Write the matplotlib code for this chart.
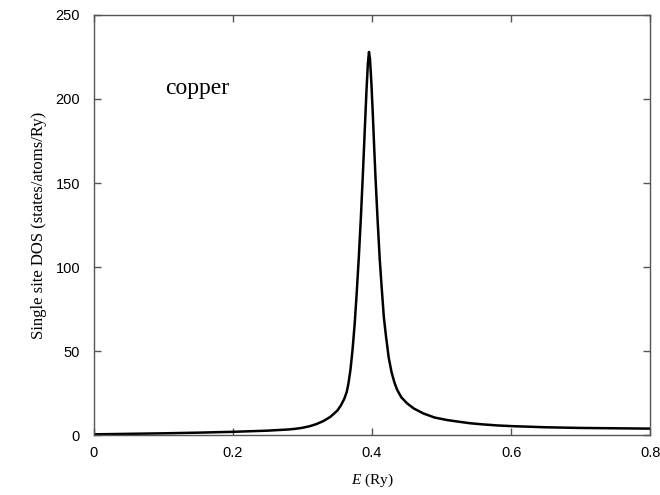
import numpy as np
import matplotlib
matplotlib.use('Agg')
import matplotlib.pyplot as plt

plt.rcParams['mathtext.fontset'] = 'custom'
plt.rcParams['mathtext.it'] = 'Liberation Serif:italic'
plt.rcParams['mathtext.rm'] = 'Liberation Serif'

# single site DOS for copper
energy = [0.0, 0.05, 0.1, 0.15, 0.2, 0.25, 0.28, 0.29, 0.30, 0.31, 0.32,
          0.33, 0.34, 0.35, 0.355, 0.36, 0.3635, 0.366, 0.369, 0.372,
          0.375, 0.378, 0.381, 0.384, 0.387, 0.390, 0.392, 0.394, 0.3956,
          0.397, 0.399, 0.401, 0.403, 0.405, 0.408, 0.411, 0.414, 0.417,
          0.420, 0.424, 0.428, 0.432, 0.436, 0.442, 0.45, 0.46, 0.474,
          0.49, 0.508, 0.525, 0.541, 0.56, 0.58, 0.6, 0.65, 0.7, 0.75, 0.8]
dos = [0.4, 0.7, 1.0, 1.4, 1.9, 2.6, 3.3, 3.7, 4.3, 5.2, 6.5,
       8.3, 10.8, 14.5, 17.5, 21.5, 25.5, 30.5, 39.0, 51.0,
       66.0, 85.0, 106.0, 130.0, 157.0, 186.0, 205.0, 221.0, 228.0,
       224.0, 210.0, 192.0, 172.0, 153.0, 128.0, 105.0, 87.0, 70.0,
       59.0, 46.0, 37.5, 31.5, 27.0, 22.5, 19.0, 15.8, 12.8,
       10.4, 8.9, 7.9, 7.0, 6.3, 5.7, 5.3, 4.6, 4.2, 4.0, 3.8]

x_ticks = [0, 0.2, 0.4, 0.6, 0.8]
x_tick_labels = ['0', '0.2', '0.4', '0.6', '0.8']
y_ticks = [0, 50, 100, 150, 200, 250]

fig = plt.figure(figsize=(6.6, 4.95), dpi=100)
ax = fig.add_axes([0.1424, 0.1212, 0.8426, 0.8485])

ax.plot(energy, dos, color='black', lw=1.8, solid_joinstyle='round')

ax.set_xlim(0, 0.8)
ax.set_ylim(0, 250)
ax.set_xticks(x_ticks)
ax.set_xticklabels(x_tick_labels)
ax.set_yticks(y_ticks)

for s in ax.spines.values():
    s.set_color('#555555')
    s.set_linewidth(1.0)

ax.tick_params(direction='in', length=5, width=1, color='#555555',
               top=True, right=True, labelsize=10.5)
ax.tick_params(axis='x', pad=8)
ax.tick_params(axis='y', pad=10)
for lab in ax.get_xticklabels() + ax.get_yticklabels():
    lab.set_family('Liberation Sans')

ax.set_ylabel('Single site DOS (states/atoms/Ry)', family='Liberation Serif',
              fontsize=12, labelpad=6)
ax.set_xlabel(r'$\mathit{E}$ (Ry)', family='Liberation Serif', fontsize=11,
              labelpad=8)

ax.text(0.102, 206, 'copper', family='Liberation Serif', fontsize=17,
        va='center', ha='left')

fig.savefig('out.png', dpi=100)
